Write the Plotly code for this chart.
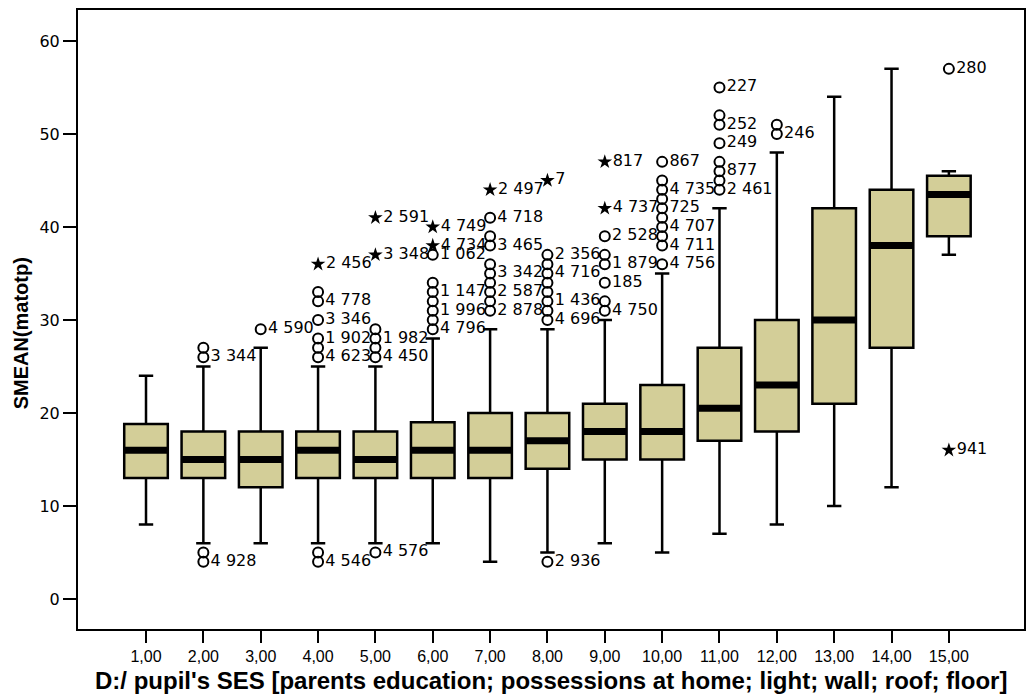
import plotly.graph_objects as go

# ---- data ----
cats = list(range(1, 16))
tick_labels = ["1,00", "2,00", "3,00", "4,00", "5,00", "6,00", "7,00", "8,00",
               "9,00", "10,00", "11,00", "12,00", "13,00", "14,00", "15,00"]
lower_whisker = [8, 6, 6, 6, 6, 6, 4, 5, 6, 5, 7, 8, 10, 12, 37]
q1 = [13, 13, 12, 13, 13, 13, 13, 14, 15, 15, 17, 18, 21, 27, 39]
median = [16, 15, 15, 16, 15, 16, 16, 17, 18, 18, 20.5, 23, 30, 38, 43.5]
q3 = [18.8, 18, 18, 18, 18, 19, 20, 20, 21, 23, 27, 30, 42, 44, 45.5]
upper_whisker = [24, 25, 27, 25, 25, 28, 29, 29, 30, 35, 42, 48, 54, 57, 46]

# outliers (circles): category, value, case label
out_x = [2, 2, 2, 2,
         3,
         4, 4, 4, 4, 4, 4, 4, 4,
         5, 5, 5, 5, 5,
         6, 6, 6, 6, 6, 6, 6,
         7, 7, 7, 7, 7, 7, 7, 7, 7,
         8, 8, 8, 8, 8, 8, 8, 8, 8,
         9, 9, 9, 9, 9, 9,
         10, 10, 10, 10, 10, 10, 10, 10, 10, 10,
         11, 11, 11, 11, 11, 11, 11, 11,
         12, 12,
         15]
out_y = [26, 27, 5, 4,
         29,
         26, 27, 28, 30, 32, 33, 5, 4,
         26, 27, 28, 29, 5,
         29, 30, 31, 32, 33, 34, 37,
         31, 32, 33, 34, 35, 36, 38, 39, 41,
         30, 31, 32, 33, 34, 35, 36, 37, 4,
         31, 32, 34, 36, 37, 39,
         36, 38, 39, 40, 41, 42, 43, 44, 45, 47,
         44, 45, 46, 47, 49, 51, 52, 55,
         50, 51,
         57]
out_label = ["3 344", "", "", "4 928",
             "4 590",
             "4 623", "", "1 902", "3 346", "4 778", "", "", "4 546",
             "4 450", "", "1 982", "", "4 576",
             "4 796", "", "1 996", "", "1 147", "", "1 062",
             "2 878", "", "2 587", "", "3 342", "", "3 465", "", "4 718",
             "4 696", "", "1 436", "", "", "4 716", "", "2 356", "2 936",
             "4 750", "", "185", "1 879", "", "2 528",
             "4 756", "4 711", "", "4 707", "", "725", "", "4 735", "", "867",
             "2 461", "", "877", "", "249", "252", "", "227",
             "246", "",
             "280"]

# extremes (stars)
ext_x = [4, 5, 5, 6, 6, 7, 8, 9, 9, 15]
ext_y = [36, 37, 41, 38, 40, 44, 45, 42, 47, 16]
ext_label = ["2 456", "3 348", "2 591", "4 734", "4 749", "2 497", "7", "4 737", "817", "941"]

x_title = "D:/ pupil's SES [parents education; possessions at home; light; wall; roof; floor]"
y_title = "SMEAN(matotp)"

box_w = 0.76
fill = "#d3ce98"
label_font = dict(family="DejaVu Sans", size=16, color="black")

fig = go.Figure()

fig.add_trace(go.Box(
    x=cats, q1=q1, median=median, q3=q3,
    lowerfence=lower_whisker, upperfence=upper_whisker,
    boxpoints=False, width=box_w, whiskerwidth=0.33,
    fillcolor=fill, line=dict(color="black", width=2.5),
    hoverinfo="skip", showlegend=False,
))

# thick median bars
mx, my = [], []
for c, m in zip(cats, median):
    mx += [c - box_w / 2, c + box_w / 2, None]
    my += [m, m, None]
fig.add_trace(go.Scatter(x=mx, y=my, mode="lines",
                         line=dict(color="black", width=7),
                         showlegend=False, hoverinfo="skip"))

fig.add_trace(go.Scatter(
    x=out_x, y=out_y, mode="markers+text", text=out_label,
    textposition="middle right", textfont=label_font,
    marker=dict(symbol="circle-open", size=10, color="black", line=dict(width=2)),
    showlegend=False, hoverinfo="skip", cliponaxis=False,
))
fig.add_trace(go.Scatter(
    x=ext_x, y=ext_y, mode="markers+text", text=ext_label,
    textposition="middle right", textfont=label_font,
    marker=dict(symbol="star", size=11, color="black", line=dict(width=0)),
    showlegend=False, hoverinfo="skip", cliponaxis=False,
))

fig.update_layout(
    width=1033, height=694,
    margin=dict(l=78, r=9, t=10, b=65),
    paper_bgcolor="white", plot_bgcolor="white",
    font=dict(family="Liberation Sans, Arial, sans-serif", color="black"),
    xaxis=dict(
        range=[-0.186, 16.31], tickmode="array", tickvals=cats, ticktext=tick_labels,
        ticks="outside", ticklen=12, tickwidth=2, tickcolor="black",
        ticklabelstandoff=0,
        showline=True, linewidth=2, linecolor="black", mirror=True,
        showgrid=False, zeroline=False, automargin=False,
        tickfont=dict(family="Liberation Sans, Arial, sans-serif", size=16),
    ),
    yaxis=dict(
        range=[-3.23, 63.33], tickmode="array", tickvals=[0, 10, 20, 30, 40, 50, 60],
        ticks="outside", ticklen=13, tickwidth=2, tickcolor="black",
        showline=True, linewidth=2, linecolor="black", mirror=True,
        showgrid=False, zeroline=False, automargin=False,
        tickfont=dict(family="DejaVu Sans", size=16),
    ),
    annotations=[
        dict(text="<b>" + y_title + "</b>", textangle=-90, xref="paper", yref="paper",
             x=-0.06, y=0.478, xanchor="center", yanchor="middle", showarrow=False,
             font=dict(family="Liberation Sans, Arial, sans-serif", size=20)),
        dict(text="<b>" + x_title + "</b>", xref="paper", yref="paper",
             x=0.5, y=-0.0825, xanchor="center", yanchor="middle", showarrow=False,
             font=dict(family="Liberation Sans, Arial, sans-serif", size=24)),
    ],
)

# remove the default page margin so the 1033x694 figure fills the window exactly
fig.write_html("out.html", config={"displayModeBar": False},
               post_script="document.body.style.margin='0px';")
